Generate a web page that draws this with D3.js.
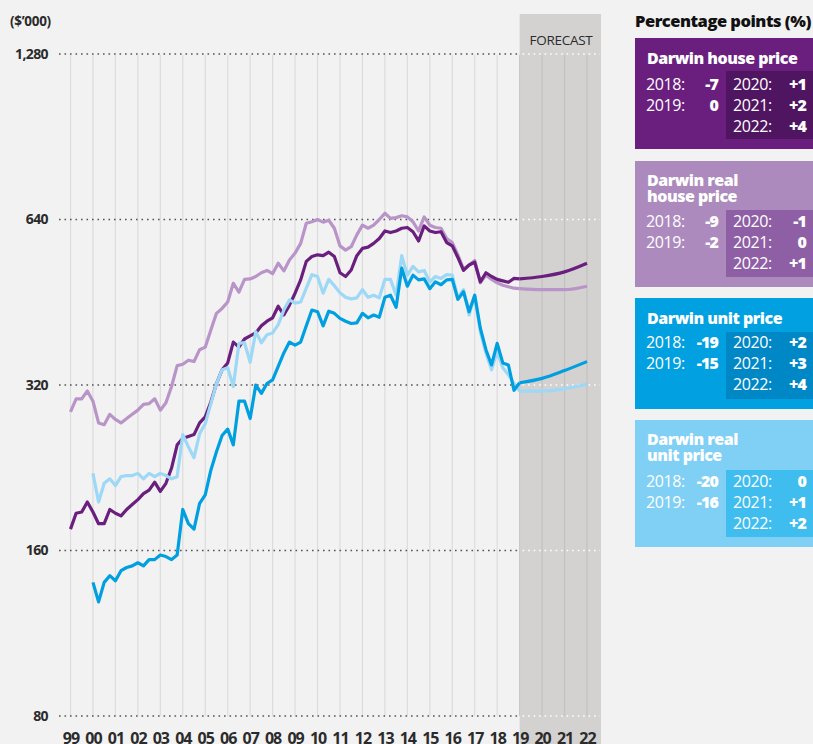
<!DOCTYPE html>
<html>
<head>
<meta charset="utf-8">
<script src="https://cdn.jsdelivr.net/npm/d3@7"></script>
<style>
  html, body { margin: 0; padding: 0; background: #f2f2f2; }
  svg { display: block; font-family: "Open Sans", Lato, sans-serif; }
</style>
</head>
<body>
<div id="chart"></div>
<script>
// quarterly values, $'000 -- houses from 1999 Q1, units from 2000 Q1, both to 2019
const houseStart = 1999;
const unitStart = 2000;

const housePrice = [
  175, 187, 188, 196,  188, 179, 179, 190,  187, 185, 190, 194,  198, 203, 206, 213,
  205, 212, 226, 249,  256, 258, 260, 273,  280, 298, 322, 341,  351, 383, 375, 388,
  393, 398, 410, 418,  424, 445, 429, 447,  470, 497, 537, 548,  552, 550, 558, 548,
  512, 504, 518, 550,  567, 570, 579, 591,  610, 606, 610, 617,  619, 608, 585, 623,
  610, 606, 608, 581,  573, 546, 517, 529,  535, 493, 512, 504,  498, 495, 492, 500,
  499
];
const realHousePrice = [
  286, 302, 302, 312,  299, 273, 271, 283,  277, 273, 278, 283,  288, 295, 296, 302,
  288, 297, 318, 347,  349, 355, 353, 371,  375, 403, 432, 441,  453, 490, 472, 498,
  499, 504, 512, 517,  510, 533, 516, 540,  556, 579, 630, 634,  640, 633, 638, 617,
  573, 563, 571, 600,  625, 617, 625, 640,  657, 643, 645, 650,  647, 634, 610, 647,
  625, 619, 617, 591,  581, 552, 520, 529,  539, 491, 507, 498,  491, 486, 483, 480,
  479
];
const unitPrice = [
  140, 129, 140, 144,  141, 147, 149, 150,  152, 150, 154, 154,  157, 156, 154, 157,
  190, 179, 175, 195,  202, 224, 242, 259,  266, 249, 299, 299,  278, 320, 309, 322,
  327, 346, 366, 383,  378, 383, 410, 438,  435, 410, 436, 432,  423, 418, 414, 415,
  432, 424, 429, 425,  462, 466, 443, 522,  484, 507, 497, 499,  479, 493, 487, 497,
  498, 458, 473, 435,  466, 406, 371, 348,  381, 351, 348, 313,  323
];
const realUnitPrice = [
  221, 196, 212, 216,  210, 218, 219, 219,  221, 216, 221, 218,  221, 219, 216, 218,
  260, 247, 236, 261,  272, 296, 322, 341,  344, 318, 381, 382,  352, 400, 382, 395,
  398, 412, 438, 457,  451, 453, 480, 508,  504, 470, 498, 485,  471, 462, 459, 461,
  477, 462, 466, 461,  498, 498, 466, 550,  507, 526, 514, 517,  493, 504, 500, 508,
  507, 461, 477, 429,  466, 400, 366, 341,  368, 344, 334, 322,  312
];

// forecast, annual
const forecastYears = [2019, 2020, 2021, 2022];
const houseForecast = [499, 504, 514, 533];
const realHouseForecast = [479, 477, 477, 484];
const unitForecast = [323, 329, 340, 353];
const realUnitForecast = [312, 312, 315, 321];

const yTicks = [80, 160, 320, 640, 1280];
const xYears = d3.range(1999, 2023);

// legend panels
const panelTitles = [['Darwin house price'], ['Darwin real', 'house price'], ['Darwin unit price'], ['Darwin real', 'unit price']];
const pastLabels = ['2018:', '2019:'];
const futureLabels = ['2020:', '2021:', '2022:'];
const pastChanges = [['-7', '0'], ['-9', '-2'], ['-19', '-15'], ['-20', '-16']];
const futureChanges = [['+1', '+2', '+4'], ['-1', '0', '+1'], ['+2', '+3', '+4'], ['0', '+1', '+2']];

const colors = ['#6a1f7e', '#b894c8', '#009fe0', '#9dd8f6'];
const panelFill = ['#6a1f7e', '#ad8abe', '#00a0e1', '#80cff4'];
const boxFill = ['#4f1561', '#8e5fa4', '#0087c5', '#3fbdee'];

const width = 813;
const height = 744;

const svg = d3.select('#chart')
  .append('svg')
  .attr('width', width)
  .attr('height', height)
  .attr('viewBox', [0, 0, width, height]);

svg.append('rect')
  .attr('width', width)
  .attr('height', height)
  .attr('fill', '#f2f2f2');

const x = d3.scaleLinear()
  .domain([1999, 2022])
  .range([70.5, 587]);

const y = d3.scaleLog()
  .base(2)
  .domain([80, 1280])
  .range([716, 54]);

const fx = x(2019);

// forecast band
svg.append('rect')
  .attr('x', fx)
  .attr('y', 14)
  .attr('width', 601 - fx)
  .attr('height', height - 14)
  .attr('fill', '#d3d2d0');

svg.append('text')
  .attr('x', 561)
  .attr('y', 45)
  .attr('text-anchor', 'middle')
  .attr('fill', '#2b2b2b')
  .style('font-size', '13.5px')
  .style('font-weight', 500)
  .style('letter-spacing', '-0.3px')
  .text('FORECAST');

// vertical year lines
svg.append('g')
  .selectAll('line')
  .data(xYears)
  .join('line')
  .attr('x1', d => x(d))
  .attr('x2', d => x(d))
  .attr('y1', y(1280) + 1)
  .attr('y2', y(80))
  .attr('stroke', d => d > 2019 ? '#c3c2c0' : (d === 2019 ? '#c9c8c6' : '#dcdcdc'))
  .attr('stroke-width', 1.2);

// dotted value lines
const hGrid = svg.append('g');
hGrid.selectAll('line.hist')
  .data(yTicks)
  .join('line')
  .attr('class', 'hist')
  .attr('x1', 59)
  .attr('x2', fx)
  .attr('y1', d => y(d))
  .attr('y2', d => y(d))
  .attr('stroke', '#555')
  .attr('stroke-width', 1.6)
  .attr('stroke-dasharray', '1.6,3.9');
hGrid.selectAll('line.fc')
  .data(yTicks)
  .join('line')
  .attr('class', 'fc')
  .attr('x1', fx + 3)
  .attr('x2', 600)
  .attr('y1', d => y(d))
  .attr('y2', d => y(d))
  .attr('stroke', '#fff')
  .attr('stroke-width', 1.6)
  .attr('stroke-dasharray', '1.6,3.9');

// axes
const yAxisG = svg.append('g')
  .attr('transform', 'translate(48,0)')
  .call(d3.axisLeft(y).tickValues(yTicks).tickFormat(d3.format(',')).tickSize(0).tickPadding(0));
yAxisG.select('.domain').remove();
yAxisG.selectAll('text')
  .attr('fill', '#2b2b2b')
  .style('font-size', '14px')
  .style('font-weight', 700)
  .style('font-family', '"Open Sans", sans-serif')
  .style('letter-spacing', '-0.6px');

svg.append('text')
  .attr('x', 10)
  .attr('y', 26)
  .attr('fill', '#2b2b2b')
  .style('font-size', '13.5px')
  .style('font-weight', 700)
  .style('letter-spacing', '-0.3px')
  .text('($\u2019000)');

const xAxisG = svg.append('g')
  .attr('transform', 'translate(0,732)')
  .call(d3.axisBottom(x).tickValues(xYears).tickFormat(d => String(d % 100).padStart(2, '0')).tickSize(0).tickPadding(0));
xAxisG.select('.domain').remove();
xAxisG.selectAll('text')
  .attr('dy', '0.72em')
  .attr('fill', '#2b2b2b')
  .style('font-size', '16px')
  .style('font-weight', 700)
  .style('font-family', '"Open Sans", sans-serif')
  .style('letter-spacing', '-1px');

// lines
const histLine = d3.line()
  .x(d => x(d[0]))
  .y(d => y(d[1]));
const fcLine = d3.line()
  .x(d => x(d[0]))
  .y(d => y(d[1]))
  .curve(d3.curveMonotoneX);

const quarterly = (start, vals) => vals.map((v, i) => [start + i / 4, v]);

const series = [
  { hist: quarterly(houseStart, realHousePrice), fc: realHouseForecast, color: colors[1] },
  { hist: quarterly(houseStart, housePrice), fc: houseForecast, color: colors[0] },
  { hist: quarterly(unitStart, realUnitPrice), fc: realUnitForecast, color: colors[3] },
  { hist: quarterly(unitStart, unitPrice), fc: unitForecast, color: colors[2] }
];

const lineG = svg.append('g')
  .attr('fill', 'none')
  .attr('stroke-width', 3.2)
  .attr('stroke-linejoin', 'round');

series.forEach(s => {
  lineG.append('path')
    .attr('stroke', s.color)
    .attr('d', histLine(s.hist));
  lineG.append('path')
    .attr('stroke', s.color)
    .attr('d', fcLine(forecastYears.map((yr, i) => [yr, s.fc[i]])));
});

// legend
svg.append('text')
  .attr('x', 635)
  .attr('y', 27)
  .attr('fill', '#111')
  .style('font-size', '16.5px')
  .style('font-weight', 800)
  .style('letter-spacing', '-0.5px')
  .text('Percentage points (%)');

const panels = [
  { top: 38, bottom: 149, boxTop: 71, boxBottom: 139, titleY: 64, rowY: 90 },
  { top: 161, bottom: 287, boxTop: 210, boxBottom: 277, titleY: 186, rowY: 227 },
  { top: 298, bottom: 409, boxTop: 332, boxBottom: 399, titleY: 324, rowY: 348 },
  { top: 420, bottom: 547, boxTop: 470, boxBottom: 537, titleY: 445, rowY: 487 }
];
const rowStep = 20.8;

panels.forEach((p, i) => {
  const g = svg.append('g');
  g.append('rect')
    .attr('x', 635)
    .attr('y', p.top)
    .attr('width', width - 635)
    .attr('height', p.bottom - p.top)
    .attr('fill', panelFill[i]);
  g.append('rect')
    .attr('x', 726)
    .attr('y', p.boxTop)
    .attr('width', width - 726)
    .attr('height', p.boxBottom - p.boxTop)
    .attr('fill', boxFill[i]);

  panelTitles[i].forEach((t, j) => {
    g.append('text')
      .attr('x', 647)
      .attr('y', p.titleY + j * 15.5)
      .attr('fill', '#fff')
      .style('font-size', '16px')
      .style('font-weight', 800)
      .style('letter-spacing', '-0.5px')
      .text(t);
  });

  pastLabels.forEach((lab, j) => {
    g.append('text')
      .attr('x', 646)
      .attr('y', p.rowY + j * rowStep)
      .attr('fill', '#fff')
      .style('font-size', '16px')
      .style('font-weight', 400)
      .style('letter-spacing', '-0.4px')
      .text(lab);
    g.append('text')
      .attr('x', 718)
      .attr('y', p.rowY + j * rowStep)
      .attr('text-anchor', 'end')
      .attr('fill', '#fff')
      .style('font-size', '16px')
      .style('font-weight', 800)
      .style('letter-spacing', '-0.9px')
      .text(pastChanges[i][j]);
  });
  futureLabels.forEach((lab, j) => {
    g.append('text')
      .attr('x', 733)
      .attr('y', p.rowY + j * rowStep)
      .attr('fill', '#fff')
      .style('font-size', '16px')
      .style('font-weight', 400)
      .style('letter-spacing', '-0.4px')
      .text(lab);
    g.append('text')
      .attr('x', 806)
      .attr('y', p.rowY + j * rowStep)
      .attr('text-anchor', 'end')
      .attr('fill', '#fff')
      .style('font-size', '16px')
      .style('font-weight', 800)
      .style('letter-spacing', '-0.9px')
      .text(futureChanges[i][j]);
  });
});
</script>
</body>
</html>
